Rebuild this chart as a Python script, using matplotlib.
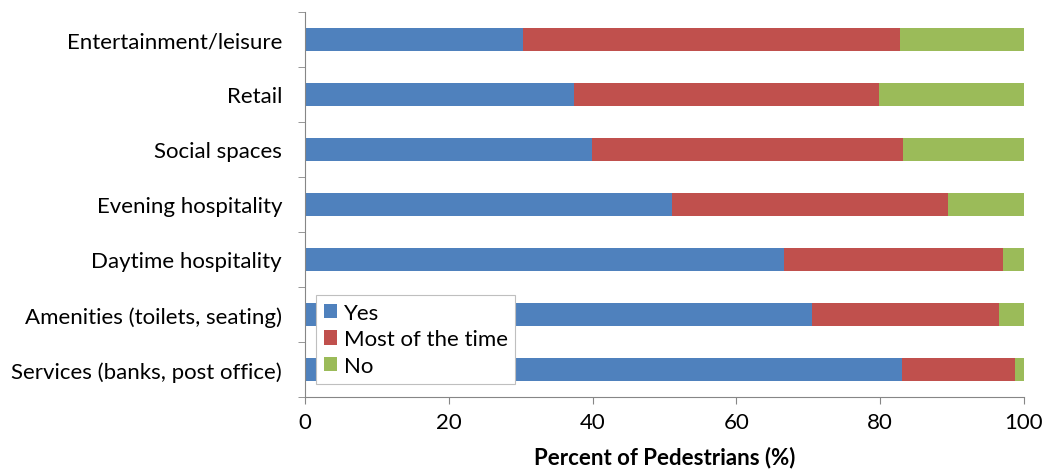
import matplotlib
matplotlib.use("Agg")
import matplotlib.pyplot as plt
import numpy as np

categories = [
    "Entertainment/leisure",
    "Retail",
    "Social spaces",
    "Evening hospitality",
    "Daytime hospitality",
    "Amenities (toilets, seating)",
    "Services (banks, post office)",
]
yes = [30.3, 37.4, 39.9, 51.1, 66.7, 70.5, 83.1]
most = [52.4, 42.5, 43.3, 38.3, 30.4, 26.0, 15.6]
no = [17.3, 20.1, 16.8, 10.6, 2.9, 3.5, 1.3]
series_names = ["Yes", "Most of the time", "No"]
colors = ["#4F81BD", "#C0504D", "#9BBB59"]
x_ticks = [0, 20, 40, 60, 80, 100]

plt.rcParams["font.family"] = ["Lato", "DejaVu Sans"]
FS = 16

fig = plt.figure(figsize=(10.48, 4.77), dpi=100)
ax = fig.add_axes([0.291, 0.166, 0.686, 0.807])

ypos = np.arange(len(categories))
left = np.zeros(len(categories))
for vals, name, c in zip([yes, most, no], series_names, colors):
    ax.barh(ypos, vals, left=left, height=0.42, color=c, label=name, zorder=2)
    left += np.array(vals)

ax.set_ylim(len(categories) - 0.5, -0.5)
ax.set_xlim(0, 100)
ax.set_yticks(ypos)
ax.set_yticklabels(categories, fontsize=FS)
ax.set_yticks(np.arange(-0.5, len(categories)), minor=True)
ax.tick_params(axis="y", which="major", length=0, pad=16.5)
ax.tick_params(axis="y", which="minor", length=5, color="#868686", direction="out")
ax.set_xticks(x_ticks)
ax.tick_params(axis="x", labelsize=FS, length=5, color="#868686", pad=6)
ax.set_xlabel("Percent of Pedestrians (%)", fontsize=FS, fontweight="bold", labelpad=10)

for s in ["top", "right"]:
    ax.spines[s].set_visible(False)
for s in ["left", "bottom"]:
    ax.spines[s].set_color("#868686")

leg = ax.legend(loc="lower left", bbox_to_anchor=(0.015, 0.034), borderaxespad=0,
                fontsize=FS, fancybox=False, handlelength=0.6, handleheight=0.6,
                handletextpad=0.3, labelspacing=0.3, borderpad=0.35, framealpha=1)
leg.get_frame().set_edgecolor("#BFBFBF")
leg.get_frame().set_linewidth(0.8)

fig.savefig("out.png", dpi=100)
